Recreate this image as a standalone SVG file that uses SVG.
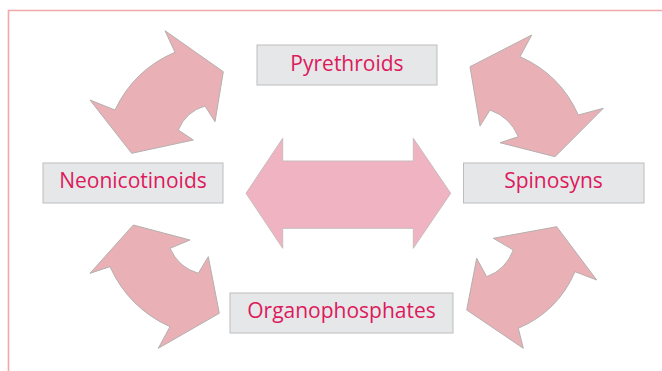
<svg xmlns="http://www.w3.org/2000/svg" width="662" height="371" viewBox="0 0 662 371">
<style>
.frame{fill:none;stroke:#f4a7a8;stroke-width:1.6}
.arc{fill:#e9b1b5;stroke:#b5afaf;stroke-width:1;stroke-linejoin:miter}
.dbl{fill:#efb3c2;stroke:#c9bcbf;stroke-width:1}
.box{fill:#e6e7e9;stroke:#bdbdbd;stroke-width:1}
.lbl{font-family:"Open Sans","Liberation Sans",sans-serif;font-size:21px;fill:#dc1a5c;text-anchor:middle}
</style>
<rect width="662" height="371" fill="#ffffff"/>
<path class="frame" d="M8.5,380 V10.5 H670"/>
<g id="connectors">
<path id="arrow-top-left" class="arc" d="M165,30.7 L223.3,71.7 L215,121.7 L205,106 Q186,111.5 178.3,130 L193.3,140 L131.7,153.3 L90,100 L115,110 Q134,69.7 175,52.3 Z"/>
<path id="arrow-top-right" class="arc" d="M531.7,35 L520,56.7 Q560.5,74.6 578.3,115 L603.3,108.3 L555,156.7 L500,142.7 L518.3,136.7 Q510,117 490,110 L480,126 L470,66.7 Z"/>
<path id="arrow-bottom-left" class="arc" d="M133.3,225 L190,240 L170,248.3 Q178.5,267.5 198.3,273.3 L208.3,256.7 L219.3,313.3 L158.3,348.3 L170,326.7 Q128.7,308 110,266.7 L90,273.3 Z"/>
<path id="arrow-bottom-right" class="arc" d="M556.7,226.7 L596.7,280 L575,271.7 Q558,311.3 518.3,328.3 L523.3,348.3 L466.7,310 L476.7,258.3 L486.7,276.7 Q506,269.5 513.3,250 L493.3,238.3 Z"/>
<path id="arrow-center" class="dbl" d="M246,193.3 L282.7,138.3 L282.7,161 L413.3,161 L413.3,138.3 L450.7,193.3 L413.3,248.3 L413.3,228.3 L282.7,228.3 L282.7,248.3 Z"/>
</g>
<g id="pyrethroids">
<rect class="box" x="257" y="45" width="180" height="40"/>
<text class="lbl" x="347" y="71">Pyrethroids</text>
</g>
<g id="neonicotinoids">
<rect class="box" x="43" y="163" width="180" height="40"/>
<text class="lbl" x="133" y="188">Neonicotinoids</text>
</g>
<g id="spinosyns">
<rect class="box" x="463.5" y="163" width="180.5" height="40"/>
<text class="lbl" x="553.5" y="188">Spinosyns</text>
</g>
<g id="organophosphates">
<rect class="box" x="230" y="293" width="223" height="40"/>
<text class="lbl" x="341.5" y="318">Organophosphates</text>
</g>
</svg>
